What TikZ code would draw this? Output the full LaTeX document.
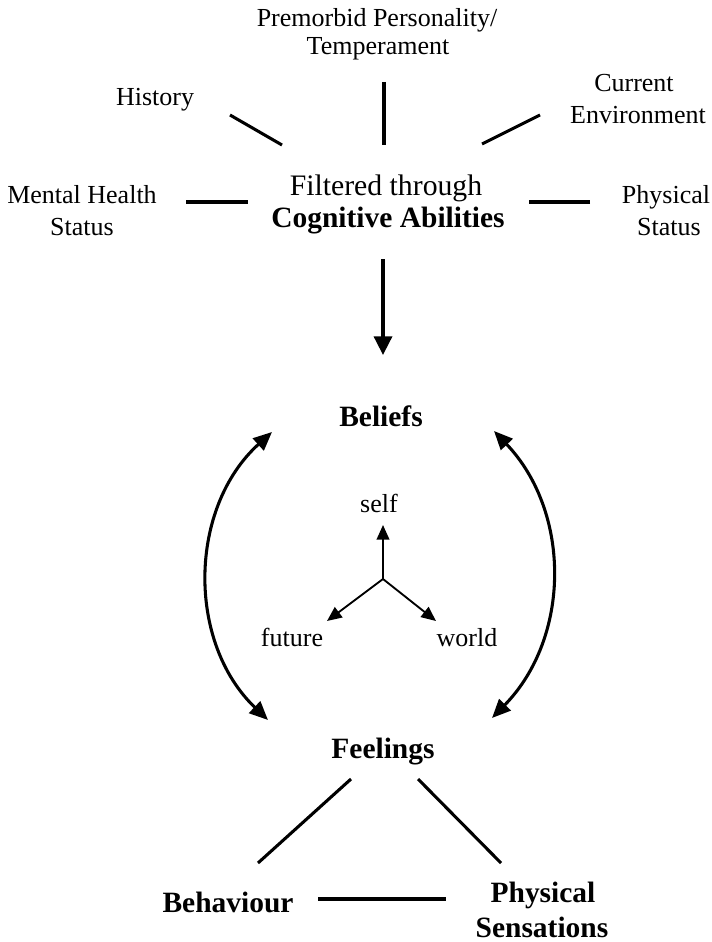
\documentclass[tikz,border=0pt]{standalone}
\usepackage{fontspec}
\setmainfont{Liberation Serif}
\usetikzlibrary{arrows.meta}
\newcommand\labfont{\fontsize{19.5}{21}\selectfont}
\newcommand\midfont{\fontsize{22.3}{24}\selectfont}
\newcommand\keyfont{\fontsize{22.1}{24}\selectfont\bfseries}
\begin{document}
\begin{tikzpicture}[x=0.75pt,y=-0.75pt,
  lab/.style={anchor=base,inner sep=0pt,font=\labfont},
  mid/.style={anchor=base,inner sep=0pt,font=\midfont},
  key/.style={anchor=base,inner sep=0pt,font=\keyfont},
  spoke/.style={line width=2.3pt},
  bigarrow/.style={line width=2.6pt,-{Triangle[length=14pt,width=13.5pt]}},
  arcarrow/.style={line width=2.3pt,{Triangle[length=14pt,width=12pt]}-{Triangle[length=14pt,width=12pt]}},
  smallarrow/.style={line width=1.4pt,-{Triangle[length=11pt,width=9.5pt]}}]
\useasboundingbox (0,0) rectangle (712,942);
% labels
\node[lab] (prem1) at (377,27) {Premorbid Personality/};
\node[lab] (prem2) at (378,55) {Temperament};
\node[lab] (hist) at (155,105) {History};
\node[lab] (curr1) at (634,92) {Current};
\node[lab] (curr2) at (638,123) {Environment};
\node[lab] (ment1) at (82,203) {Mental Health};
\node[lab] (ment2) at (82,235) {Status};
\node[lab] (phys1) at (666,203) {Physical};
\node[lab] (phys2) at (669,235) {Status};
\node[mid] (filt1) at (386,195) {Filtered through};
\node[key] (filt2) at (388,227) {Cognitive Abilities};
\node[key] (beliefs) at (381,426) {Beliefs};
\node[lab] (self) at (379,512) {self};
\node[lab] (future) at (292,646) {future};
\node[lab] (world) at (467,646) {world};
\node[key] (feelings) at (383,758) {Feelings};
\node[key] (behaviour) at (228,912) {Behaviour};
\node[key] (sens1) at (543,902) {Physical};
\node[key] (sens2) at (542,937) {Sensations};
% connector end points
\coordinate (hA) at (230,115); \coordinate (hB) at (282,145);
\coordinate (pA) at (384,82);  \coordinate (pB) at (384,145);
\coordinate (cA) at (540,115); \coordinate (cB) at (482,144);
\coordinate (mA) at (186,202); \coordinate (mB) at (248,202);
\coordinate (sA) at (590,202); \coordinate (sB) at (529,202);
\coordinate (dA) at (383,259); \coordinate (dB) at (383,355);
\coordinate (jn) at (383,579);
\coordinate (tSelf) at (383,525);
\coordinate (tFut) at (327,621);
\coordinate (tWor) at (436,621);
\coordinate (lTop) at (272,432); \coordinate (lBot) at (268,720);
\coordinate (rTop) at (494,431); \coordinate (rBot) at (492,718);
\coordinate (fbA) at (351,779); \coordinate (fbB) at (258,863);
\coordinate (fpA) at (418,779); \coordinate (fpB) at (501,863);
\coordinate (bpA) at (318,899); \coordinate (bpB) at (446,899);
% spokes
\draw[spoke] (hA) -- (hB);
\draw[spoke] (pA) -- (pB);
\draw[spoke] (cA) -- (cB);
\draw[spoke] (mA) -- (mB);
\draw[spoke] (sA) -- (sB);
% main arrow
\draw[bigarrow] (dA) -- (dB);
% self/future/world
\draw[smallarrow] (jn) -- (tSelf);
\draw[smallarrow] (jn) -- (tFut);
\draw[smallarrow] (jn) -- (tWor);
% arcs
\draw[arcarrow] (lTop) to[bend right=47] (lBot);
\draw[arcarrow] (rTop) to[bend left=44] (rBot);
% triangle
\draw[spoke] (fbA) -- (fbB);
\draw[spoke] (fpA) -- (fpB);
\draw[spoke] (bpA) -- (bpB);
\end{tikzpicture}
\end{document}
